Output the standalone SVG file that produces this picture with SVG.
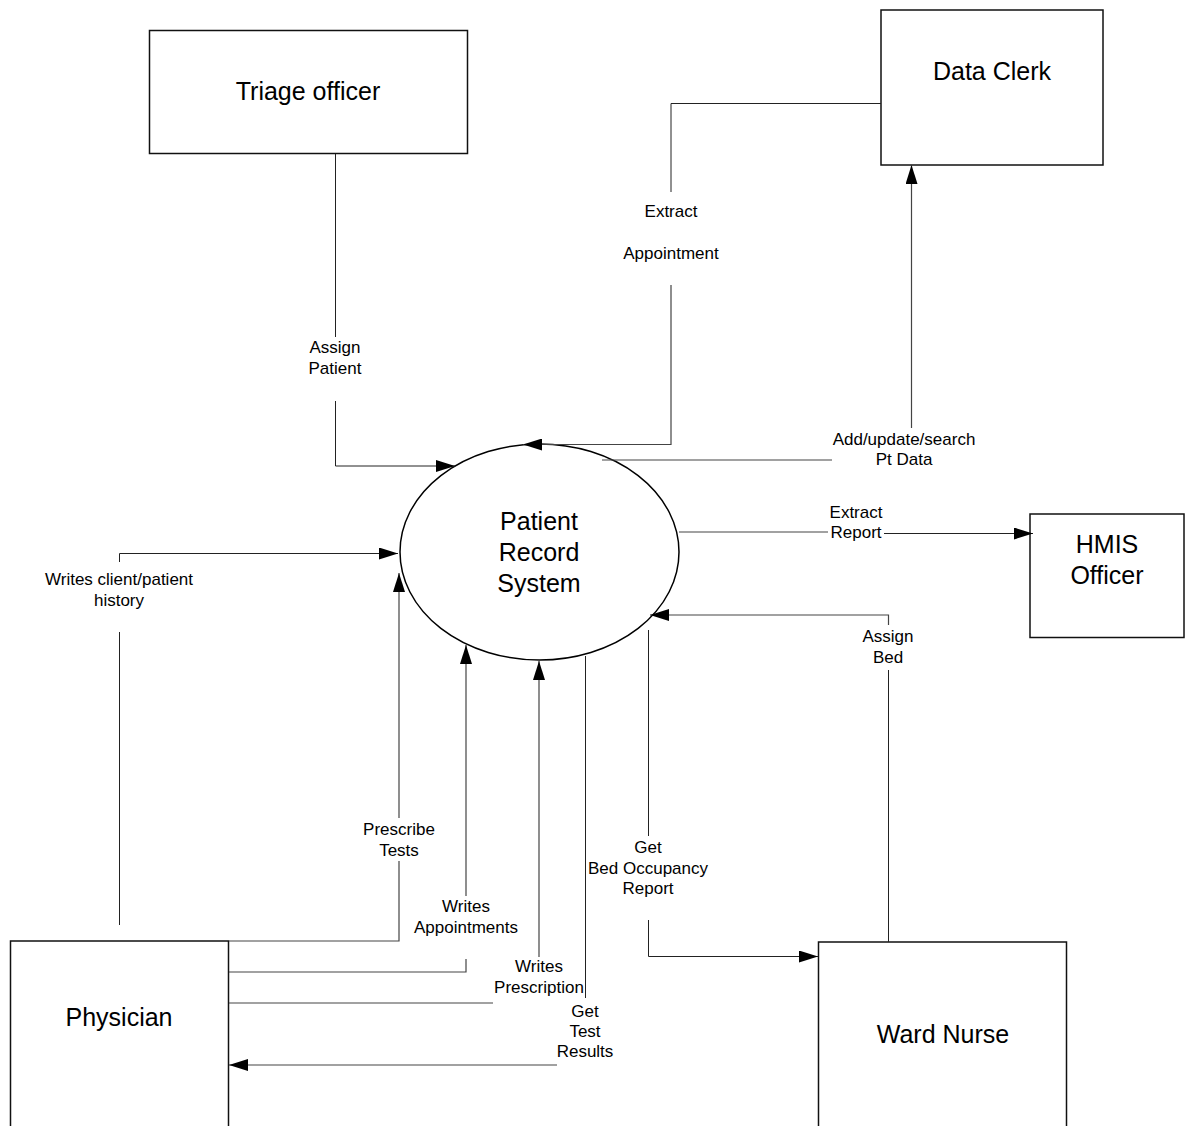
<svg xmlns="http://www.w3.org/2000/svg" width="1185" height="1126" viewBox="0 0 1185 1126">
  <style>
    .box { fill: #ffffff; stroke: #111111; stroke-width: 1.5; }
    .proc { fill: #ffffff; stroke: #000000; stroke-width: 1.5; }
    .node-text { font-family: "Liberation Sans", Arial, sans-serif; font-size: 25px; fill: #000000; text-anchor: middle; }
    .flow { fill: none; stroke: #222222; stroke-width: 1; }
    .flow-soft { fill: none; stroke: #444444; stroke-width: 1.2; }
    .label { font-family: "Liberation Sans", Arial, sans-serif; font-size: 17px; fill: #000000; text-anchor: middle; }
  </style>
  <defs>
    <marker id="arrow" markerUnits="userSpaceOnUse" markerWidth="19" markerHeight="12" refX="19" refY="6" orient="auto">
      <path d="M0,0 L19,6 L0,12 Z" fill="#000000"/>
    </marker>
  </defs>

  <rect width="1185" height="1126" fill="#ffffff"/>

  <!-- External entities and the central process -->
  <g id="triage-officer">
    <rect class="box" x="149.5" y="30.5" width="318" height="123"/>
    <text class="node-text" x="308" y="100">Triage officer</text>
  </g>

  <g id="data-clerk">
    <rect class="box" x="881" y="10" width="222" height="155"/>
    <text class="node-text" x="992" y="80">Data Clerk</text>
  </g>

  <g id="hmis-officer">
    <rect class="box" x="1030" y="514" width="154" height="123.5"/>
    <text class="node-text" x="1107" y="553">HMIS</text>
    <text class="node-text" x="1107" y="584">Officer</text>
  </g>

  <g id="physician">
    <rect class="box" x="10.5" y="941" width="218" height="200"/>
    <text class="node-text" x="119" y="1026">Physician</text>
  </g>

  <g id="ward-nurse">
    <rect class="box" x="818.5" y="942" width="248" height="200"/>
    <text class="node-text" x="943" y="1043">Ward Nurse</text>
  </g>

  <g id="patient-record-system">
    <ellipse class="proc" cx="539.5" cy="552" rx="139.5" ry="108"/>
    <text class="node-text" x="539" y="530">Patient</text>
    <text class="node-text" x="539" y="561">Record</text>
    <text class="node-text" x="539" y="592">System</text>
  </g>

  <!-- Data flows -->
  <g id="connectors">
    <!-- Assign Patient -->
    <path class="flow" d="M335.5,154 V337"/>
    <path class="flow" d="M335.5,401 V466 H455" marker-end="url(#arrow)"/>
    <text class="label" x="335" y="353">Assign</text>
    <text class="label" x="335" y="374">Patient</text>

    <!-- Extract Appointment -->
    <path class="flow" d="M881,103.5 H671 V192"/>
    <path class="flow-soft" d="M671,285 V444.5 H523" marker-end="url(#arrow)"/>
    <text class="label" x="671" y="217">Extract</text>
    <text class="label" x="671" y="259">Appointment</text>

    <!-- Add/update/search Pt Data -->
    <path class="flow-soft" d="M602,460 H832"/>
    <path class="flow-soft" d="M911.5,428 V165" marker-end="url(#arrow)"/>
    <text class="label" x="904" y="445">Add/update/search</text>
    <text class="label" x="904" y="465">Pt Data</text>

    <!-- Extract Report -->
    <path class="flow-soft" d="M679,532 H828"/>
    <path class="flow" d="M884,533.5 H1033" marker-end="url(#arrow)"/>
    <text class="label" x="856" y="518">Extract</text>
    <text class="label" x="856" y="538">Report</text>

    <!-- Assign Bed -->
    <path class="flow" d="M888.5,942 V670"/>
    <path class="flow-soft" d="M888.5,625 V615 H650" marker-end="url(#arrow)"/>
    <text class="label" x="888" y="642">Assign</text>
    <text class="label" x="888" y="663">Bed</text>

    <!-- Get Bed Occupancy Report -->
    <path class="flow" d="M648.5,630 V836"/>
    <path class="flow" d="M648.5,920 V956.5 H818" marker-end="url(#arrow)"/>
    <text class="label" x="648" y="853">Get</text>
    <text class="label" x="648" y="874">Bed Occupancy</text>
    <text class="label" x="648" y="894">Report</text>

    <!-- Writes client/patient history -->
    <path class="flow" d="M119.5,925 V632"/>
    <path class="flow" d="M119.5,562 V553.5 H398" marker-end="url(#arrow)"/>
    <text class="label" x="119" y="585">Writes client/patient</text>
    <text class="label" x="119" y="606">history</text>

    <!-- Prescribe Tests -->
    <path class="flow-soft" d="M229,941 H399 V861"/>
    <path class="flow-soft" d="M399,818 V573" marker-end="url(#arrow)"/>
    <text class="label" x="399" y="835">Prescribe</text>
    <text class="label" x="399" y="856">Tests</text>

    <!-- Writes Appointments -->
    <path class="flow-soft" d="M229,972 H466 V959"/>
    <path class="flow-soft" d="M466,896 V645" marker-end="url(#arrow)"/>
    <text class="label" x="466" y="912">Writes</text>
    <text class="label" x="466" y="933">Appointments</text>

    <!-- Writes Prescription -->
    <path class="flow-soft" d="M229,1003 H493"/>
    <path class="flow-soft" d="M539,957 V661" marker-end="url(#arrow)"/>
    <text class="label" x="539" y="972">Writes</text>
    <text class="label" x="539" y="993">Prescription</text>

    <!-- Get Test Results -->
    <path class="flow" d="M585.5,656 V998"/>
    <path class="flow-soft" d="M557,1065 H229" marker-end="url(#arrow)"/>
    <text class="label" x="585" y="1017">Get</text>
    <text class="label" x="585" y="1037">Test</text>
    <text class="label" x="585" y="1057">Results</text>
  </g>
</svg>
